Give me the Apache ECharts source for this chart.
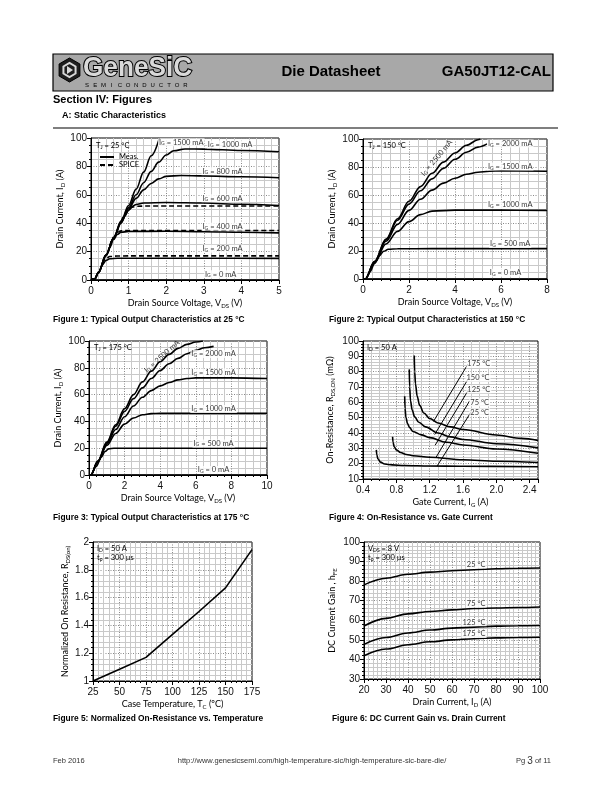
<!DOCTYPE html>
<html><head><meta charset="utf-8">
<script src="https://cdn.jsdelivr.net/npm/echarts@6/dist/echarts.min.js"></script>
<style>html,body{margin:0;padding:0;background:#fff}#c{width:612px;height:792px}</style>
</head><body><div id="c"></div>
<script>
// ---------- Figure 1 : output characteristics, Tj = 25 C ----------
var fig1_meas_0    = [[0,0],[5,0]];
var fig1_meas_200  = [[0,0],[0.1,0.8],[0.2,5],[0.3,10.5],[0.4,13.8],[0.5,15],[0.7,15.3],[1,15.3],[3,15.3],[5,15.2]];
var fig1_spice_200 = [[0.3,11.5],[0.4,15.2],[0.5,16.5],[0.7,16.9],[1,17],[5,17]];
var fig1_meas_400  = [[0,0],[0.1,0.8],[0.2,5.5],[0.4,17],[0.5,23],[0.6,28.5],[0.7,32],[0.8,33.6],[1,34.2],[2,34.3],[3,34],[4,33.6],[5,33.2]];
var fig1_spice_400 = [[0.5,24],[0.6,30],[0.7,33.6],[0.8,34.6],[1,34.9],[5,34.9]];
var fig1_meas_600  = [[0,0],[0.1,0.8],[0.2,5.5],[0.4,17.5],[0.6,29],[0.8,40],[0.9,45],[1.0,49],[1.1,51.8],[1.2,53.2],[1.4,54.2],[2,54.6],[3,54.2],[4,53.3],[5,52.5]];
var fig1_spice_600 = [[0.8,41],[0.9,46],[1.0,49.5],[1.1,51.3],[1.2,51.9],[1.5,52.1],[5,52.1]];
var fig1_meas_800  = [[0,0],[0.1,0.8],[0.2,5.5],[0.4,17.5],[0.6,29.5],[0.8,40.5],[1.0,50],[1.2,57.5],[1.4,63.5],[1.6,68],[1.8,71.2],[2.0,73],[2.4,73.6],[3,73.3],[4,72.7],[5,72]];
var fig1_meas_1000 = [[0,0],[0.1,0.8],[0.2,5.5],[0.4,17.5],[0.6,29.5],[0.8,41],[1.0,51],[1.2,60],[1.4,68.5],[1.6,76.5],[1.8,83],[2.0,88],[2.2,91],[2.5,92.3],[3,92.2],[4,91.2],[5,90.3]];
var fig1_meas_1500 = [[0,0],[0.1,0.8],[0.2,5.5],[0.4,17.5],[0.6,29.5],[0.8,41.5],[1.0,52.5],[1.2,64],[1.4,76],[1.6,87.5],[1.82,100]];
var fig1_labels = [[2.4,97,'1500'],[3.7,95.5,'1000'],[3.5,76.5,'800'],[3.5,57.5,'600'],[3.5,37.5,'400'],[3.5,22,'200'],[3.45,4,'0']];

// ---------- Figure 2 : Tj = 150 C ----------
var fig2_0    = [[0,0],[8,0]];
var fig2_500  = [[0,0],[0.1,0],[0.3,5],[0.5,11],[0.7,16.5],[0.9,19.8],[1.1,21.2],[1.5,21.6],[3,21.7],[8,21.7]];
var fig2_1000 = [[0,0],[0.1,0],[0.5,11.5],[1,25],[1.5,34],[2,41],[2.5,46],[3,48.5],[4,49.2],[6,49.2],[8,49]];
var fig2_1500 = [[0,0],[0.1,0],[0.5,12],[1,27],[1.5,39],[2,49],[2.5,57],[3,63.5],[3.5,68.5],[4,72],[4.5,74.8],[5,76.3],[5.5,77],[6,77.2],[8,77]];
var fig2_2000 = [[0,0],[0.1,0],[0.5,12.5],[1,28],[1.5,42],[2,53.5],[2.5,63],[3,71.5],[3.5,79],[4,85.5],[4.5,90.5],[5,94.2],[5.4,96.5]];
var fig2_2500 = [[0,0],[0.1,0],[0.5,12.5],[1,28.5],[1.5,43],[2,55.5],[2.5,66],[3,75.5],[3.5,83.5],[4,90],[4.5,95.5],[5,99.5],[5.1,100]];
var fig2_labels = [[6.4,96.7,'2000'],[6.4,80.4,'1500'],[6.4,53,'1000'],[6.4,25,'500'],[6.2,4.5,'0']];
var fig2_rot_label = [[3.2,86.5,'2500']];

// ---------- Figure 3 : Tj = 175 C ----------
var fig3_0    = [[0,0],[10,0]];
var fig3_500  = [[0,0],[0.1,0],[0.4,6.5],[0.7,13.5],[0.9,17.5],[1.1,19.5],[1.4,20],[3,20],[10,20]];
var fig3_1000 = [[0,0],[0.1,0],[0.5,10],[1,22],[1.5,31],[2,38],[2.5,42.5],[3,45],[3.5,45.8],[4,46],[10,46]];
var fig3_1500 = [[0,0],[0.1,0],[0.5,10],[1,23],[1.5,34],[2,43.5],[2.5,51.5],[3,58],[3.5,63],[4,66.5],[4.5,69],[5,71],[5.5,72],[6,72.5],[8,72.5],[10,72]];
var fig3_2000 = [[0,0],[0.1,0],[0.5,10.5],[1,24],[1.5,36.5],[2,47.5],[2.5,57],[3,65],[3.5,72],[4,78],[4.5,83],[5,87],[5.5,90.5],[6,93],[6.5,95],[7,96]];
var fig3_2500 = [[0,0],[0.1,0],[0.5,10.5],[1,24.5],[1.5,37.5],[2,49.5],[2.5,60],[3,69.5],[3.5,77.5],[4,84.5],[4.5,90],[5,94.5],[5.5,97.5],[6,99.2],[6.4,100]];
var fig3_labels = [[7.0,90.3,'2000'],[7.0,76.4,'1500'],[7.0,49.3,'1000'],[7.0,23.6,'500'],[7.0,3.7,'0']];
var fig3_rot_label = [[4.1,88.5,'2500']];

// ---------- Figure 4 : On-resistance vs gate current ----------
var fig4_25  = [[0.56,29],[0.565,26],[0.58,23],[0.61,21],[0.66,19.8],[0.75,19.2],[0.9,18.8],[1.2,18.5],[1.6,18.3],[2.5,18]];
var fig4_75  = [[0.755,37.5],[0.76,34],[0.775,31],[0.8,29],[0.85,27.3],[0.92,26],[1.0,25.2],[1.2,24.2],[1.6,22.6],[2.0,21.6],[2.5,20.8]];
var fig4_125 = [[0.9,64],[0.905,56],[0.915,50],[0.935,46],[0.96,43.5],[1.0,41],[1.1,38.8],[1.2,37],[1.4,34],[1.6,32.2],[2.0,29.6],[2.5,26.8]];
var fig4_150 = [[0.955,81.5],[0.96,70],[0.97,61],[0.99,55],[1.02,50.5],[1.07,47],[1.15,44],[1.3,40],[1.45,37.5],[1.6,35.8],[2.0,33],[2.5,30.3]];
var fig4_175 = [[1.015,90.5],[1.02,80],[1.03,72],[1.05,64],[1.08,58],[1.13,53],[1.2,49.5],[1.3,46.5],[1.45,44],[1.6,42.3],[2.0,38.7],[2.3,36.5],[2.5,35.2]];
var fig4_lead = [
  [[1.245,47.5],[1.66,85]],
  [[1.26,39],[1.67,76]],
  [[1.265,32],[1.67,68.5]],
  [[1.275,24],[1.68,61]],
  [[1.29,18.5],[1.7,54]]
];
var fig4_labels = [[1.79,85,'175 °C'],[1.78,76,'150 °C'],[1.79,68.5,'125 °C'],[1.8,60,'75 °C'],[1.8,53.5,'25 °C']];

// ---------- Figure 5 : normalized on-resistance vs temperature ----------
var fig5_tc   = [25, 50, 75, 100, 125, 150, 175];
var fig5_rnorm = [1.0, 1.085, 1.17, 1.335, 1.5, 1.67, 1.945];

// ---------- Figure 6 : DC current gain vs drain current ----------
var fig6_id    = [20, 30, 40, 50, 60, 70, 80, 90, 100];
var fig6_h25   = [78.1, 81.5, 83.5, 84.6, 85.3, 85.8, 86.3, 86.6, 86.7];
var fig6_h75   = [57.1, 61, 63.3, 64.5, 65.3, 66, 66.3, 66.5, 66.8];
var fig6_h125  = [47.7, 51.2, 53.5, 55, 56, 56.5, 57, 57.2, 57.3];
var fig6_h175  = [41.9, 45.3, 47.5, 49, 50, 50.6, 51, 51.2, 51.3];
var fig6_labels = [[71,88.5,'25 °C'],[71,68.5,'75 °C'],[70,59,'125 °C'],[70,53,'175 °C']];

// ================= layout / helpers =================
var TICKFONT = 'Liberation Sans';
var NAMEFONT = 'Lato';
var grids = [
  {left:91,  top:138, width:188, height:142},
  {left:363, top:139, width:184, height:140},
  {left:89,  top:341, width:178, height:134},
  {left:363, top:341, width:175, height:138},
  {left:93,  top:542, width:159, height:139},
  {left:364, top:542, width:176, height:137}
];
grids.forEach(function(g){ g.show = true; g.borderColor = '#000'; g.borderWidth = 1; g.backgroundColor = '#fff'; });

var sub = {s:{fontSize:6, lineHeight:6, verticalAlign:'bottom', fontFamily:NAMEFONT, color:'#000'}};
function mkAxis(dim, gi, min, max, interval, minorN, name, gap, fmt){
  return {
    type:'value', gridIndex:gi, min:min, max:max, interval:interval,
    axisLine:{show:true, onZero:false, lineStyle:{color:'#000', width:1}},
    axisTick:{show:true, inside:false, length:4, lineStyle:{color:'#000'}},
    minorTick:{show:true, splitNumber:minorN, length:2, lineStyle:{color:'#000'}},
    axisLabel:{color:'#111', fontSize:10, fontFamily:TICKFONT, margin:dim==='x'?6:4, formatter:fmt, hideOverlap:false},
    splitLine:{show:true, lineStyle:{color:'#8a8a8a', type:[1,1.5], width:1}},
    minorSplitLine:{show:true, lineStyle:{color:'#c9c9c9', width:1}},
    name:name, nameLocation:'middle', nameGap:gap,
    nameTextStyle:{fontFamily:NAMEFONT, fontSize:9, color:'#000', lineHeight:12, rich:sub}
  };
}
var xAxes = [
  mkAxis('x',0,0,5,1,5,'Drain Source Voltage, V{s|DS} (V)',16),
  mkAxis('x',1,0,8,2,5,'Drain Source Voltage, V{s|DS} (V)',16),
  mkAxis('x',2,0,10,2,5,'Drain Source Voltage, V{s|DS} (V)',16),
  mkAxis('x',3,0.4,2.5,0.4,4,'Gate Current, I{s|G} (A)',17,function(v){return v.toFixed(1);}),
  mkAxis('x',4,25,175,25,5,'Case Temperature, T{s|C} (ºC)',17),
  mkAxis('x',5,20,100,10,5,'Drain Current, I{s|D} (A)',16)
];
xAxes[3].axisLabel.showMaxLabel = false;
var yAxes = [
  mkAxis('y',0,0,100,20,4,'Drain Current, I{s|D} (A)',20),
  mkAxis('y',1,0,100,20,4,'Drain Current, I{s|D} (A)',21),
  mkAxis('y',2,0,100,20,4,'Drain Current, I{s|D} (A)',20),
  mkAxis('y',3,10,100,10,5,'On-Resistance, R{s|DS,ON} (mΩ)',27),
  mkAxis('y',4,1,2,0.2,5,'Normalized On Resistance, R{s|DS(on)}',18),
  mkAxis('y',5,30,100,10,5,'DC Current Gain , h{s|FE}',26)
];

var series = [];
function curve(gi, name, data, dashed, width, smooth){
  series.push({
    type:'line', name:name, xAxisIndex:gi, yAxisIndex:gi, data:data,
    symbol:'none', smooth: smooth===undefined ? 0.35 : smooth, smoothMonotone:'x',
    lineStyle:{color:'#000', width:width||1.6, type: dashed ? [5,3] : 'solid'},
    itemStyle:{color:'#000'}, silent:true, z:3, clip:true
  });
}
function labels(gi, arr, prefix, suffix, rotate){
  series.push({
    type:'scatter', xAxisIndex:gi, yAxisIndex:gi, symbolSize:1, silent:true, z:5,
    itemStyle:{color:'rgba(0,0,0,0)'},
    data: arr.map(function(d){ return {value:[d[0],d[1]], name: prefix + d[2] + suffix}; }),
    label:{show:true, position:'inside', formatter:function(p){return p.name;}, rotate: rotate||0,
      fontFamily:NAMEFONT, fontSize:7.5, color:'#000', backgroundColor: rotate ? 'transparent' : '#fff', padding:[0,1],
      rich:{s:{fontSize:5, lineHeight:5, verticalAlign:'bottom', fontFamily:NAMEFONT, color:'#000'}}}
  });
}
// Figure 1
curve(0,'Meas.',fig1_meas_0); curve(0,'Meas.',fig1_meas_200); curve(0,'Meas.',fig1_meas_400);
curve(0,'Meas.',fig1_meas_600); curve(0,'Meas.',fig1_meas_800); curve(0,'Meas.',fig1_meas_1000); curve(0,'Meas.',fig1_meas_1500);
curve(0,'SPICE',fig1_spice_200,true); curve(0,'SPICE',fig1_spice_400,true); curve(0,'SPICE',fig1_spice_600,true);
labels(0, fig1_labels, 'I{s|G} = ', ' mA');
// Figure 2
[fig2_0,fig2_500,fig2_1000,fig2_1500,fig2_2000,fig2_2500].forEach(function(d){curve(1,'f2',d);});
labels(1, fig2_labels, 'I{s|G} = ', ' mA');
labels(1, fig2_rot_label, 'I{s|G} = ', ' mA', 50);
// Figure 3
[fig3_0,fig3_500,fig3_1000,fig3_1500,fig3_2000,fig3_2500].forEach(function(d){curve(2,'f3',d);});
labels(2, fig3_labels, 'I{s|G} = ', ' mA');
labels(2, fig3_rot_label, 'I{s|G} = ', ' mA', 42);
// Figure 4
[fig4_25,fig4_75,fig4_125,fig4_150,fig4_175].forEach(function(d){curve(3,'f4',d);});
fig4_lead.forEach(function(d){curve(3,'lead',d,false,1,false);});
labels(3, fig4_labels, '', '');
// Figure 5
curve(4,'f5', fig5_tc.map(function(t,i){return [t,fig5_rnorm[i]];}), false, 1.6, false);
// Figure 6
[fig6_h25,fig6_h75,fig6_h125,fig6_h175].forEach(function(h){ curve(5,'f6', fig6_id.map(function(x,i){return [x,h[i]];})); });
labels(5, fig6_labels, '', '');

// ---------- graphics: header, captions, annotations ----------
var g = [];
function txt(x,y,text,opt){
  opt = opt||{};
  g.push({type:'text', x:x, y:y, z:100, silent:true, scaleX: opt.sx||1,
    style:{text:text, fill:opt.fill||'#000', font:opt.font||('9px '+NAMEFONT), textAlign:opt.align||'left', textVerticalAlign:'middle',
      stroke:opt.stroke, lineWidth:opt.lw, rich:{s:{fontSize:opt.subSize||6, lineHeight:opt.subSize||6, verticalAlign:'bottom', fontFamily:NAMEFONT, fill:'#000'}}}});
}
// header box
g.push({type:'rect', shape:{x:53, y:54, width:500, height:37}, style:{fill:'#a8a8a8', stroke:'#000', lineWidth:1.2}, z:90, silent:true});
// logo hexagon
(function(){
  var cx=69.5, cy=70, r=12, pts=[], pts2=[];
  for (var i=0;i<6;i++){ var a=Math.PI/3*i+Math.PI/6; pts.push([cx+r*Math.cos(a), cy+r*Math.sin(a)]); pts2.push([cx+7*Math.cos(a), cy+7*Math.sin(a)]); }
  g.push({type:'polygon', shape:{points:pts}, style:{fill:'#1e1e1e', stroke:'#000'}, z:95, silent:true});
  g.push({type:'polygon', shape:{points:pts2}, style:{fill:'none', stroke:'#d8d8d8', lineWidth:2}, z:96, silent:true});
  g.push({type:'polygon', shape:{points:[[cx-2.5,cy-4],[cx+3.5,cy],[cx-2.5,cy+4]]}, style:{fill:'#d8d8d8'}, z:96, silent:true});
})();
txt(83, 69, 'GeneSiC', {font:'bold 27px Liberation Sans', fill:'#d9d9d9', stroke:'#000', lw:2, sx:0.97});
'SEMICONDUCTOR'.split('').forEach(function(ch,i){ txt(87+i*8.2, 85.5, ch, {font:'6px Liberation Sans', align:'center'}); });
txt(331, 72, 'Die Datasheet', {font:'bold 15px Liberation Sans', align:'center'});
txt(551, 72, 'GA50JT12-CAL', {font:'bold 15px Liberation Sans', align:'right'});
txt(53, 100, 'Section IV: Figures', {font:'bold 11px Liberation Sans'});
txt(62, 115.5, 'A: Static Characteristics', {font:'bold 9px Liberation Sans'});
g.push({type:'line', shape:{x1:53, y1:128, x2:558, y2:128}, style:{stroke:'#000', lineWidth:1.2}, z:90, silent:true});
// captions
var capFont = 'bold 9px Liberation Sans';
var capSx = 0.93;
txt(53, 320, 'Figure 1: Typical Output Characteristics at 25 °C', {font:capFont, sx:capSx});
txt(329, 320, 'Figure 2: Typical Output Characteristics at 150 °C', {font:capFont, sx:capSx});
txt(53, 518, 'Figure 3: Typical Output Characteristics at 175 °C', {font:capFont, sx:capSx});
txt(329, 518, 'Figure 4: On-Resistance vs. Gate Current', {font:capFont, sx:capSx});
txt(53, 719, 'Figure 5: Normalized On-Resistance vs. Temperature', {font:capFont, sx:capSx});
txt(332, 719, 'Figure 6: DC Current Gain vs. Drain Current', {font:capFont, sx:capSx});
// in-plot annotations
var annFont = '7.5px ' + NAMEFONT;
txt(96, 146, 'T{s|J} = 25 °C', {font:annFont, subSize:5});
txt(368, 146, 'T{s|J} = 150 °C', {font:annFont, subSize:5});
txt(94, 348, 'T{s|J} = 175 °C', {font:annFont, subSize:5});
txt(367, 348, 'I{s|D} = 50 A', {font:annFont, subSize:5});
txt(97, 549, 'I{s|D} = 50 A', {font:annFont, subSize:5});
txt(97, 558, 't{s|p} = 300 µs', {font:annFont, subSize:5});
txt(368, 549, 'V{s|DS} = 8 V', {font:annFont, subSize:5});
txt(368, 558, 't{s|p} = 300 µs', {font:annFont, subSize:5});
// footer
txt(53, 761, 'Feb 2016', {font:'7.5px Liberation Sans', fill:'#333'});
txt(312, 761, 'http://www.genesicsemi.com/high-temperature-sic/high-temperature-sic-bare-die/', {font:'7.5px Liberation Sans', fill:'#333', align:'center'});
g.push({type:'text', x:551, y:761, z:100, silent:true, style:{text:'Pg {b|3} of 11', font:'7.5px Liberation Sans', fill:'#333', textAlign:'right', textVerticalAlign:'middle', rich:{b:{fontSize:10, fontFamily:'Liberation Sans', fill:'#333'}}}});

var chart = echarts.init(document.getElementById('c'), null, {renderer:'canvas'});
chart.setOption({
  animation:false,
  backgroundColor:'#fff',
  grid:grids, xAxis:xAxes, yAxis:yAxes, series:series, graphic:g,
  legend:{show:true, data:['Meas.','SPICE'], orient:'vertical', left:94, top:148, itemWidth:14, itemHeight:6, itemGap:0,
    selectedMode:false, itemStyle:{opacity:0, borderWidth:0},
    textStyle:{fontFamily:NAMEFONT, fontSize:7.5, color:'#000'}}
});
</script></body></html>
